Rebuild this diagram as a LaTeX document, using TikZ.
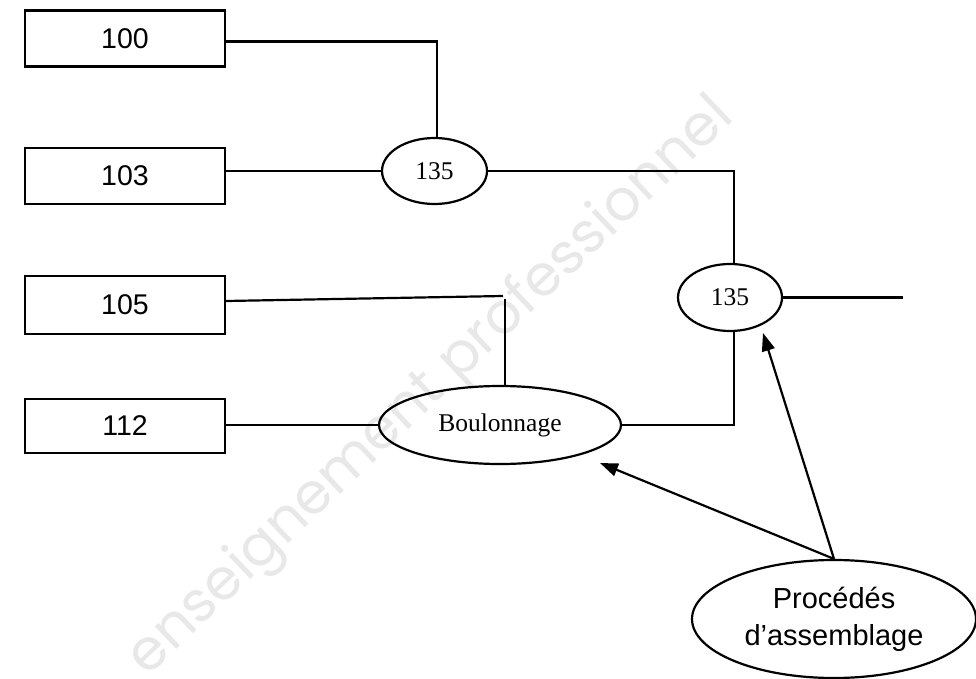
\documentclass[tikz,border=0pt]{standalone}
\usepackage{fontspec}
\setmainfont{Liberation Serif}
\newfontfamily\arialfont{Liberation Sans}
\newfontfamily\wmfont{Poppins}
\usetikzlibrary{shapes.geometric,arrows.meta,calc}
\begin{document}
\begin{tikzpicture}[x=1pt,y=-1pt,
  line width=2.2pt,
  boxnode/.style={draw,rectangle,line width=2.4pt,minimum width=200pt,minimum height=56pt,inner sep=0pt,
    font=\arialfont\fontsize{28.5}{34}\selectfont},
  ovalnode/.style={draw,ellipse,line width=2.2pt,inner sep=0pt,font=\fontsize{25.5}{30}\selectfont},
  bigoval/.style={draw,ellipse,line width=2.2pt,inner sep=0pt,align=center,
    font=\arialfont\fontsize{29}{37}\selectfont},
  wire/.style={line width=2.2pt},
  arrowline/.style={line width=2.2pt,-{Triangle[length=18pt,width=13pt]}},
  watermark/.style={text=black!9,font=\wmfont\fontsize{57}{60}\selectfont,rotate=43.5}]
\useasboundingbox (0,0) rectangle (976,679);
% watermark
\node[watermark] (wm) at (432,388) {enseignement professionnel};
% boxes
\node[boxnode] (b100) at (125,38.5) {100};
\node[boxnode] (b103) at (125,176) {103};
\node[boxnode,minimum height=58pt] (b105) at (125,305) {105};
\node[boxnode,minimum height=54pt] (b112) at (125,426) {112};
% ellipses
\node[ovalnode,minimum width=105pt,minimum height=66pt] (e1) at (434.5,171) {135};
\node[ovalnode,minimum width=104pt,minimum height=67pt] (e2) at (730,297.5) {135};
\node[ovalnode,minimum width=242pt,minimum height=78pt] (boul) at (500,425) {Boulonnage};
\node[bigoval,minimum width=284pt,minimum height=118pt] (proc) at (834,619) {Procédés\\d’assemblage};
% free ends
\coordinate (out) at (903,297.5);
\coordinate (k105) at (503,296);
\coordinate (k105v) at (505,299);
\coordinate (tipb) at (600,463);
\coordinate (tipe) at (763,333);
% connectors
\draw[wire] ([yshift=-3pt]b100.east) -| ([xshift=2.5pt]e1.north);
\draw[wire] (b103.east |- e1.west) -- (e1.west);
\draw[wire] (e1.east) -| ([xshift=4pt]e2.north);
\draw[wire] (e2.east) -- (out);
\draw[wire] ([yshift=4pt]b105.east) -- (k105);
\draw[wire] (k105v) -- (k105v |- boul.north);
\draw[wire] (b112.east |- boul.west) -- (boul.west);
\draw[wire] (boul.east) -| ([xshift=4pt]e2.south);
\draw[arrowline] (proc.north) -- (tipb);
\draw[arrowline] (proc.north) -- (tipe);
\end{tikzpicture}
\end{document}
